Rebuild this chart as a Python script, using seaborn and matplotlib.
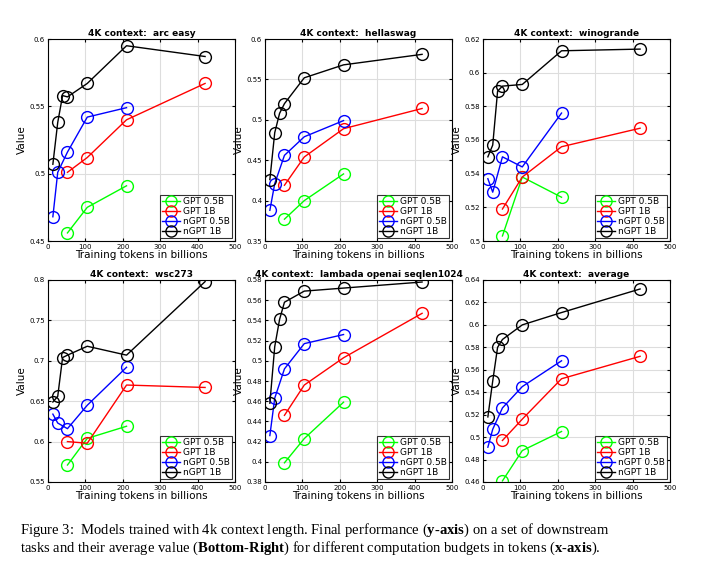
import matplotlib
matplotlib.use("Agg")
import matplotlib.pyplot as plt
import seaborn as sns
import pandas as pd

plt.rcParams["mathtext.fontset"] = "custom"
plt.rcParams["mathtext.rm"] = "Liberation Serif"
plt.rcParams["mathtext.bf"] = "Liberation Serif:bold"

x_gpt05 = [52, 105, 210]
x_gpt1 = [52, 105, 210, 420]
x_ngpt05 = [13, 26, 52, 105, 210]
x_ngpt1 = [13, 26, 39, 52, 105, 210, 420]
series_names = ["GPT 0.5B", "GPT 1B", "nGPT 0.5B", "nGPT 1B"]
colors = ["#00ff00", "#ff0000", "#0000ff", "#000000"]

titles = ["4K context:  arc easy", "4K context:  hellaswag", "4K context:  winogrande",
          "4K context:  wsc273", "4K context:  lambada openai seqlen1024", "4K context:  average"]
gpt05 = [[.456, .475, .491], [.377, .400, .433], [.503, .538, .526],
         [.571, .604, .619], [.399, .423, .459], [.461, .488, .505]]
gpt1 = [[.501, .512, .540, .567], [.419, .454, .489, .514], [.519, .538, .556, .567],
        [.600, .598, .670, .667], [.446, .476, .503, .547], [.497, .516, .552, .572]]
ngpt05 = [[.468, .501, .516, .542, .549], [.388, .421, .456, .479, .499], [.537, .529, .550, .544, .576],
          [.634, .623, .616, .645, .692], [.426, .463, .492, .517, .526], [.491, .507, .526, .545, .568]]
ngpt1 = [[.507, .538, .558, .557, .567, .595, .587], [.426, .484, .508, .520, .552, .568, .581],
         [.550, .557, .589, .592, .593, .613, .614], [.649, .656, .704, .707, .718, .707, .798],
         [.458, .514, .541, .558, .569, .572, .578], [.518, .550, .580, .587, .600, .611, .632]]
ylims = [(0.45, 0.6), (0.35, 0.6), (0.5, 0.62), (0.55, 0.8), (0.38, 0.58), (0.46, 0.64)]
yticks = [[0.45, 0.5, 0.55, 0.6], [0.35, 0.4, 0.45, 0.5, 0.55, 0.6],
          [0.5, 0.52, 0.54, 0.56, 0.58, 0.6, 0.62], [0.55, 0.6, 0.65, 0.7, 0.75, 0.8],
          [0.38, 0.4, 0.42, 0.44, 0.46, 0.48, 0.5, 0.52, 0.54, 0.56, 0.58],
          [0.46, 0.48, 0.5, 0.52, 0.54, 0.56, 0.58, 0.6, 0.62, 0.64]]

W, H = 707, 579
fig = plt.figure(figsize=(W / 100, H / 100), dpi=100)
lefts = [48, 265, 483]
tops = [39, 280]
aw, ah = 187, 202
for i in range(6):
    r, c = divmod(i, 3)
    ax = fig.add_axes([lefts[c] / W, 1 - (tops[r] + ah) / H, aw / W, ah / H])
    rows = []
    for name, xs, ys in zip(series_names, [x_gpt05, x_gpt1, x_ngpt05, x_ngpt1],
                            [gpt05[i], gpt1[i], ngpt05[i], ngpt1[i]]):
        for xv, yv in zip(xs, ys):
            rows.append({"x": xv, "y": yv, "s": name})
    df = pd.DataFrame(rows)
    sns.lineplot(data=df, x="x", y="y", hue="s", hue_order=series_names, palette=colors,
                 marker="o", markersize=8.5, markerfacecolor="none", markeredgewidth=1.0,
                 linewidth=1.0, ax=ax, sort=False, estimator=None)
    for ln, col in zip(ax.lines, colors):
        ln.set_markeredgecolor(col)
    ax.set_xlim(0, 500)
    ax.set_ylim(*ylims[i])
    ax.set_xticks([0, 100, 200, 300, 400, 500])
    ax.set_yticks(yticks[i])
    ax.set_yticklabels([f"{t:g}" for t in yticks[i]])
    ax.tick_params(labelsize=5, length=2, direction="in", top=True, right=True, pad=2)
    ax.grid(True, color="#dddddd", linewidth=0.8)
    ax.set_axisbelow(True)
    ax.set_title(titles[i], fontsize=6.5, fontweight="bold", pad=2)
    ax.set_xlabel("Training tokens in billions", fontsize=7.5, labelpad=0)
    ax.set_ylabel("Value", fontsize=7.5, labelpad=2)
    leg = ax.legend(loc="lower right", fontsize=6.5, frameon=True, fancybox=False,
                    edgecolor="black", borderpad=0.25, labelspacing=0.1, handlelength=2.0,
                    handletextpad=0.3, borderaxespad=0.3)
    leg.get_frame().set_linewidth(0.8)
    for h, col in zip(leg.legend_handles, colors):
        h.set_markerfacecolor("none")
        h.set_markeredgecolor(col)
        h.set_markersize(8)

fig.text(20 / W, 1 - 530 / H,
         "Figure 3:  Models trained with 4k context length. Final performance ($\\mathbf{y}$-$\\mathbf{axis}$) on a set of downstream",
         fontsize=10.5, family="Liberation Serif", va="center")
fig.text(20 / W, 1 - 548 / H,
         "tasks and their average value ($\\mathbf{Bottom}$-$\\mathbf{Right}$) for different computation budgets in tokens ($\\mathbf{x}$-$\\mathbf{axis}$).",
         fontsize=10.5, family="Liberation Serif", va="center")
fig.savefig("out.png", dpi=100, facecolor="white")
